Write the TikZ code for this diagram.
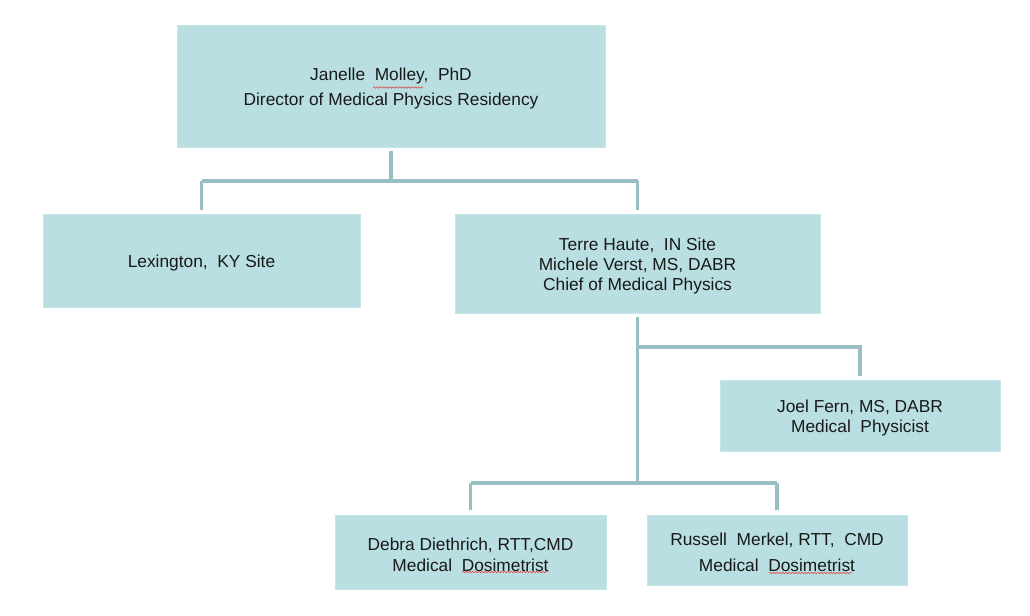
\documentclass[tikz,border=0pt]{standalone}
\usepackage{fontspec}
\setmainfont{Liberation Sans}
\usetikzlibrary{decorations.pathmorphing}
\definecolor{boxfill}{HTML}{B9DFE2}
\definecolor{boxedge}{HTML}{C6E5E7}
\definecolor{conncol}{HTML}{98C0C4}
\definecolor{squigcol}{HTML}{E04848}
\begin{document}
\begin{tikzpicture}[x=0.75pt,y=-0.75pt,
  orgbox/.style={fill=boxfill, draw=boxedge, line width=0.6pt, inner sep=0pt},
  lbl/.style={align=center, inner sep=0pt, text=black!90, yshift=-2pt},
  conn/.style={draw=conncol, line width=2.3pt},
  squiggle/.style={draw=squigcol, line width=0.45pt, decorate,
    decoration={snake, amplitude=0.55pt, segment length=2.4pt}}]
\useasboundingbox[fill=white] (0,0) rectangle (1030,616);

\node[orgbox, minimum width=321pt, minimum height=91.5pt,
  label={[lbl, font=\fontsize{13}{18.75}\selectfont]center:{Janelle\ \ Molley,\ \ PhD\\Director\ of\ Medical\ Physics\ Residency}}]
  (top) at (391,86) {};
\node[orgbox, minimum width=237.75pt, minimum height=69.75pt,
  label={[lbl, font=\fontsize{13}{15}\selectfont]center:{Lexington,\ \ KY Site}}]
  (lex) at (201.5,260.5) {};
\node[orgbox, minimum width=273.75pt, minimum height=74.25pt,
  label={[lbl, font=\fontsize{13}{15}\selectfont]center:{Terre Haute,\ \ IN Site\\Michele Verst, MS, DABR\\Chief of Medical Physics}}]
  (terre) at (637.5,263.5) {};
\node[orgbox, minimum width=210pt, minimum height=53.25pt,
  label={[lbl, font=\fontsize{13}{15}\selectfont]center:{Joel Fern, MS, DABR\\Medical\ \ Physicist}}]
  (joel) at (860,415.5) {};
\node[orgbox, minimum width=203.25pt, minimum height=55.5pt,
  label={[lbl, font=\fontsize{13}{15.75}\selectfont]center:{Debra Diethrich, RTT,CMD\\Medical\ \ Dosimetrist}}]
  (debra) at (470.5,552) {};
\node[orgbox, minimum width=195pt, minimum height=52.5pt,
  label={[lbl, font=\fontsize{13}{19.5}\selectfont]center:{Russell\ \ Merkel, RTT,\ \ CMD\\Medical\ \ Dosimetrist}}]
  (russell) at (777,550) {};

% bus coordinates
\coordinate (bus1) at (391,181);
\coordinate (bus2) at (637,347);
\coordinate (bus3) at (637,483);

\draw[conn] ([yshift=-2.5pt]top.south) -- (top.south |- bus1);
\draw[conn] (lex.north |- bus1) -- (terre.north |- bus1);
\draw[conn] (lex.north |- bus1) -- ([yshift=3pt]lex.north);
\draw[conn] (terre.north |- bus1) -- ([yshift=3pt]terre.north);

\draw[conn] ([yshift=-3pt]terre.south) -- (terre.south |- bus3);
\draw[conn] (bus2) -| ([yshift=3pt]joel.north);
\draw[conn] (debra.north |- bus3) -- (russell.north |- bus3);
\draw[conn] (debra.north |- bus3) -- ([yshift=3.5pt]debra.north);
\draw[conn] (russell.north |- bus3) -- ([yshift=3.5pt]russell.north);

% spell-check squiggles
\draw[squiggle] (373,87.5) -- (423,87.5);
\draw[squiggle] (462,572) -- (548,572);
\draw[squiggle] (769,573) -- (852,573);
\end{tikzpicture}
\end{document}
